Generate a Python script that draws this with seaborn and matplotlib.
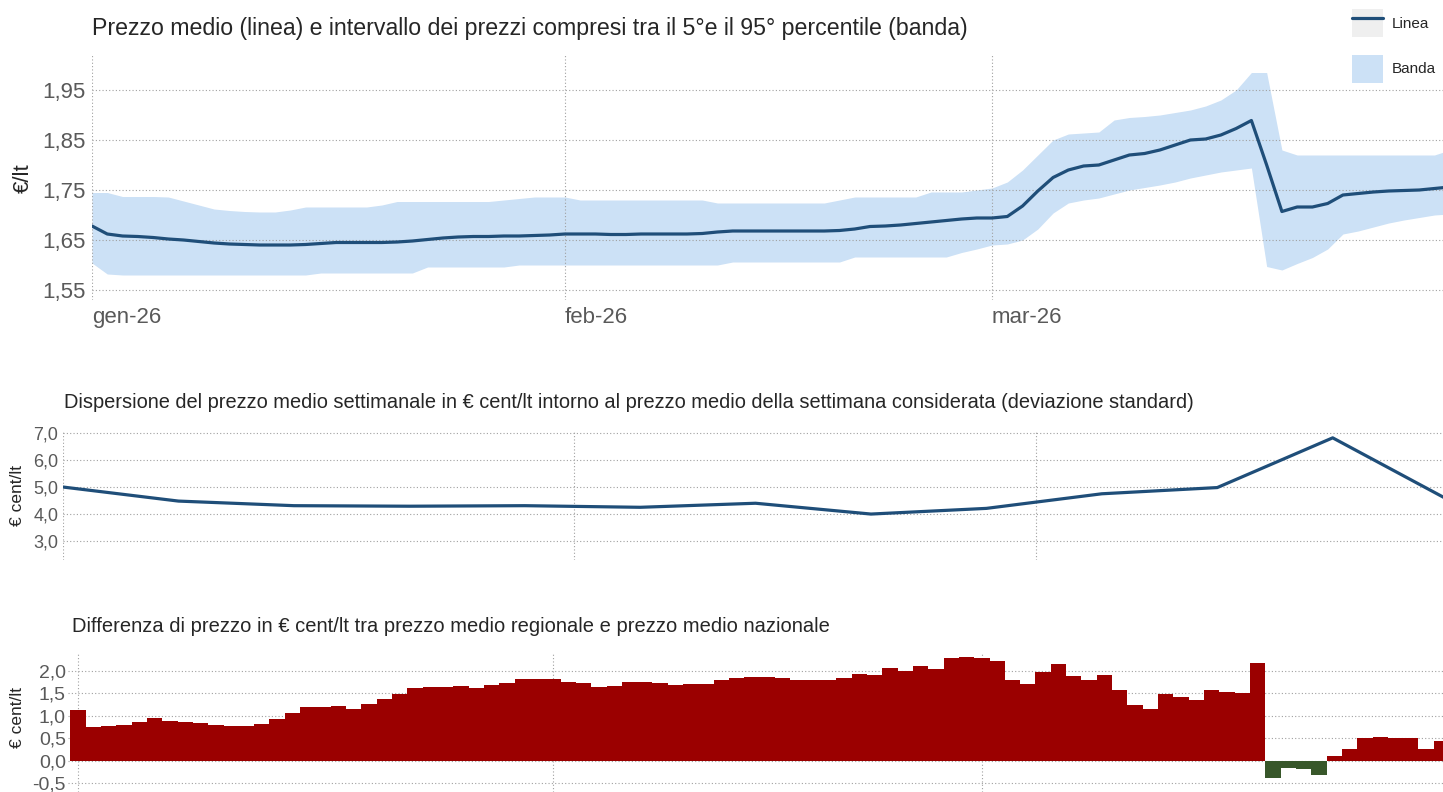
import matplotlib
matplotlib.use("Agg")
import matplotlib.pyplot as plt
import seaborn as sns
import numpy as np
import pandas as pd
from matplotlib.lines import Line2D
from matplotlib.patches import Patch
from matplotlib.legend_handler import HandlerTuple

# ---------------- data ----------------
start_date = "2026-01-01"
n_days = 90

mean_price = [
    1.678, 1.662, 1.658, 1.657, 1.655, 1.652, 1.650, 1.647, 1.644, 1.642,
    1.641, 1.640, 1.640, 1.640, 1.641, 1.643, 1.645, 1.645, 1.645, 1.645,
    1.646, 1.648, 1.651, 1.654, 1.656, 1.657, 1.657, 1.658, 1.658, 1.659,
    1.660, 1.662, 1.662, 1.662, 1.661, 1.661, 1.662, 1.662, 1.662, 1.662,
    1.663, 1.666, 1.668, 1.668, 1.668, 1.668, 1.668, 1.668, 1.668, 1.669,
    1.672, 1.677, 1.678, 1.680, 1.683, 1.686, 1.689, 1.692, 1.694, 1.694,
    1.697, 1.718, 1.748, 1.775, 1.790, 1.798, 1.800, 1.810, 1.820, 1.823,
    1.830, 1.840, 1.850, 1.852, 1.860, 1.873, 1.889, 1.800, 1.707, 1.716,
    1.716, 1.723, 1.740, 1.743, 1.746, 1.748, 1.749, 1.750, 1.753, 1.756,
]

band_upper = [
    1.745, 1.745, 1.737, 1.737, 1.737, 1.736, 1.728, 1.720, 1.712, 1.709,
    1.707, 1.706, 1.706, 1.710, 1.716, 1.716, 1.716, 1.716, 1.716, 1.720,
    1.727, 1.727, 1.727, 1.727, 1.727, 1.727, 1.727, 1.730, 1.733, 1.736,
    1.736, 1.736, 1.730, 1.730, 1.730, 1.730, 1.730, 1.730, 1.730, 1.730,
    1.730, 1.724, 1.724, 1.724, 1.724, 1.724, 1.724, 1.724, 1.724, 1.730,
    1.736, 1.736, 1.736, 1.736, 1.736, 1.746, 1.746, 1.746, 1.750, 1.754,
    1.766, 1.790, 1.820, 1.850, 1.862, 1.864, 1.866, 1.890, 1.895, 1.897,
    1.900, 1.905, 1.910, 1.918, 1.930, 1.950, 1.985, 1.985, 1.830, 1.820,
    1.820, 1.820, 1.820, 1.820, 1.820, 1.820, 1.820, 1.820, 1.820, 1.830,
]

band_lower = [
    1.604, 1.582, 1.580, 1.580, 1.580, 1.580, 1.580, 1.580, 1.580, 1.580,
    1.580, 1.580, 1.580, 1.580, 1.580, 1.584, 1.584, 1.584, 1.584, 1.584,
    1.584, 1.584, 1.596, 1.596, 1.596, 1.596, 1.596, 1.596, 1.600, 1.600,
    1.600, 1.600, 1.600, 1.600, 1.600, 1.600, 1.600, 1.600, 1.600, 1.600,
    1.600, 1.600, 1.606, 1.606, 1.606, 1.606, 1.606, 1.606, 1.606, 1.606,
    1.616, 1.616, 1.616, 1.616, 1.616, 1.616, 1.616, 1.625, 1.632, 1.640,
    1.642, 1.650, 1.672, 1.704, 1.724, 1.730, 1.734, 1.742, 1.750, 1.755,
    1.760, 1.766, 1.774, 1.780, 1.786, 1.790, 1.794, 1.597, 1.590, 1.603,
    1.615, 1.632, 1.662, 1.668, 1.676, 1.684, 1.690, 1.695, 1.700, 1.702,
]

weekly_std = [5.00, 4.48, 4.31, 4.29, 4.31, 4.25, 4.40, 4.00, 4.21, 4.75, 4.98, 6.82, 4.53]

regional_diff = [
    1.13, 0.76, 0.785, 0.80, 0.87, 0.95, 0.89, 0.86, 0.84, 0.81,
    0.785, 0.785, 0.82, 0.93, 1.06, 1.21, 1.21, 1.23, 1.15, 1.26,
    1.38, 1.49, 1.62, 1.64, 1.64, 1.67, 1.63, 1.69, 1.73, 1.82,
    1.82, 1.82, 1.76, 1.73, 1.64, 1.67, 1.76, 1.76, 1.73, 1.69,
    1.70, 1.70, 1.79, 1.84, 1.86, 1.87, 1.84, 1.81, 1.79, 1.79,
    1.84, 1.93, 1.91, 2.07, 2.01, 2.12, 2.04, 2.28, 2.30, 2.28,
    2.23, 1.80, 1.71, 1.97, 2.15, 1.89, 1.79, 1.90, 1.58, 1.24,
    1.15, 1.49, 1.43, 1.36, 1.57, 1.54, 1.51, 2.17, -0.37, -0.15,
    -0.18, -0.31, 0.11, 0.27, 0.51, 0.53, 0.51, 0.51, 0.27, 0.44,
]

month_ticks = ["2026-01-01", "2026-02-01", "2026-03-01"]
month_labels = ["gen-26", "feb-26", "mar-26"]
top_yticks = [1.55, 1.65, 1.75, 1.85, 1.95]
mid_yticks = [3.0, 4.0, 5.0, 6.0, 7.0]
bot_yticks = [-0.5, 0.0, 0.5, 1.0, 1.5, 2.0]

title_top = "Prezzo medio (linea) e intervallo dei prezzi compresi tra il 5°e il 95° percentile (banda)"
title_mid = ("Dispersione del prezzo medio settimanale in € cent/lt intorno al prezzo medio "
             "della settimana considerata (deviazione standard)")
title_bot = "Differenza di prezzo in € cent/lt tra prezzo medio regionale e prezzo medio nazionale"

# ---------------- style ----------------
sns.set_style("white")
plt.rcParams["font.family"] = ["Liberation Sans", "DejaVu Sans"]

LINE = "#1f4e79"
BAND = "#cce1f6"
RED = "#9b0000"
GREEN = "#38572a"
GRID = "#a0a0a0"
TICK = "#595959"
TEXT = "#262626"

start = pd.Timestamp(start_date)
daily = pd.date_range(start, periods=n_days, freq="D")
weekly = pd.date_range(start, periods=len(weekly_std), freq="7D")
mticks = pd.to_datetime(month_ticks)

W, H = 1443, 792
fig = plt.figure(figsize=(W / 100, H / 100), dpi=100)


def axes_px(left, top, right, bottom):
    return fig.add_axes([left / W, 1 - bottom / H, (right - left) / W, (bottom - top) / H])


def style_axes(ax, yticks, fmt, size, pad):
    for s in ax.spines.values():
        s.set_visible(False)
    ax.set_axisbelow(True)
    ax.grid(True, axis="both", linestyle=(0, (1, 2)), color=GRID, linewidth=0.8)
    ax.set_yticks(yticks)
    ax.set_yticklabels([fmt.format(v).replace(".", ",") for v in yticks])
    ax.set_xticks(mticks)
    ax.tick_params(length=0, labelsize=size, colors=TICK, pad=pad)
    ax.set_xlabel("")
    ax.set_ylabel("")


# ---- top panel ----
ax1 = axes_px(92, 55, 1443, 300)
ax1.fill_between(daily, band_lower, band_upper, color=BAND, linewidth=0, zorder=0.4)
sns.lineplot(x=daily, y=mean_price, ax=ax1, color=LINE, linewidth=2.3, zorder=3)
ax1.set_xlim(start, start + pd.Timedelta(days=88.56))
ax1.set_ylim(1.53, 2.02)
style_axes(ax1, top_yticks, "{:.2f}", 16, 4.5)
ax1.set_xticklabels(month_labels)
for lbl in ax1.get_xticklabels():
    lbl.set_ha("left")
ax1.tick_params(axis="x", pad=5)

# ---- middle panel ----
ax2 = axes_px(63, 430, 1443, 560)
sns.lineplot(x=weekly, y=weekly_std, ax=ax2, color=LINE, linewidth=2.3, zorder=3)
ax2.set_xlim(start, start + pd.Timedelta(days=83.69))
ax2.set_ylim(2.30, 7.11)
style_axes(ax2, mid_yticks, "{:.1f}", 13, 3.5)
ax2.set_xticklabels([])

# ---- bottom panel ----
ax3 = axes_px(68, 653, 1443, 792)
bar_colors = [RED if v >= 0 else GREEN for v in regional_diff]
ax3.bar(daily, regional_diff, width=1.0, color=bar_colors, linewidth=0, align="center", zorder=2)
ax3.set_xlim(start - pd.Timedelta(days=0.65), start + pd.Timedelta(days=89.1))
ax3.set_ylim(-0.689, 2.40)
style_axes(ax3, bot_yticks, "{:.1f}", 14, 1.5)
ax3.set_xticklabels([])

# ---- titles & axis labels ----
fig.text(92 / W, 1 - 35 / H, title_top, fontsize=16.7, color=TEXT, ha="left", va="baseline")
fig.text(64 / W, 1 - 408 / H, title_mid, fontsize=14.45, color=TEXT, ha="left", va="baseline")
fig.text(72 / W, 1 - 632 / H, title_bot, fontsize=14.5, color=TEXT, ha="left", va="baseline")

fig.text(23 / W, 1 - 178 / H, "€/lt", fontsize=16, color=TEXT, rotation=90, ha="center", va="center")
fig.text(18 / W, 1 - 495 / H, "€ cent/lt", fontsize=12.5, color=TEXT, rotation=90, ha="center", va="center")
fig.text(18 / W, 1 - 717 / H, "€ cent/lt", fontsize=12.5, color=TEXT, rotation=90, ha="center", va="center")

# ---- legend ----
handles = [
    (Patch(facecolor="#efefef", edgecolor="none"), Line2D([], [], color=LINE, linewidth=2.3)),
    Patch(facecolor=BAND, edgecolor="none"),
]
leg = fig.legend(
    handles, ["Linea", "Banda"],
    handler_map={tuple: HandlerTuple(ndivide=1, pad=0)},
    loc="upper left", bbox_to_anchor=(1352 / W, 1 - 9 / H),
    frameon=False, fontsize=11, handlelength=2.03, handleheight=2.44,
    labelspacing=1.15, handletextpad=0.6, borderpad=0, borderaxespad=0,
)
for t in leg.get_texts():
    t.set_color(TEXT)

fig.savefig("out.png", dpi=100)
